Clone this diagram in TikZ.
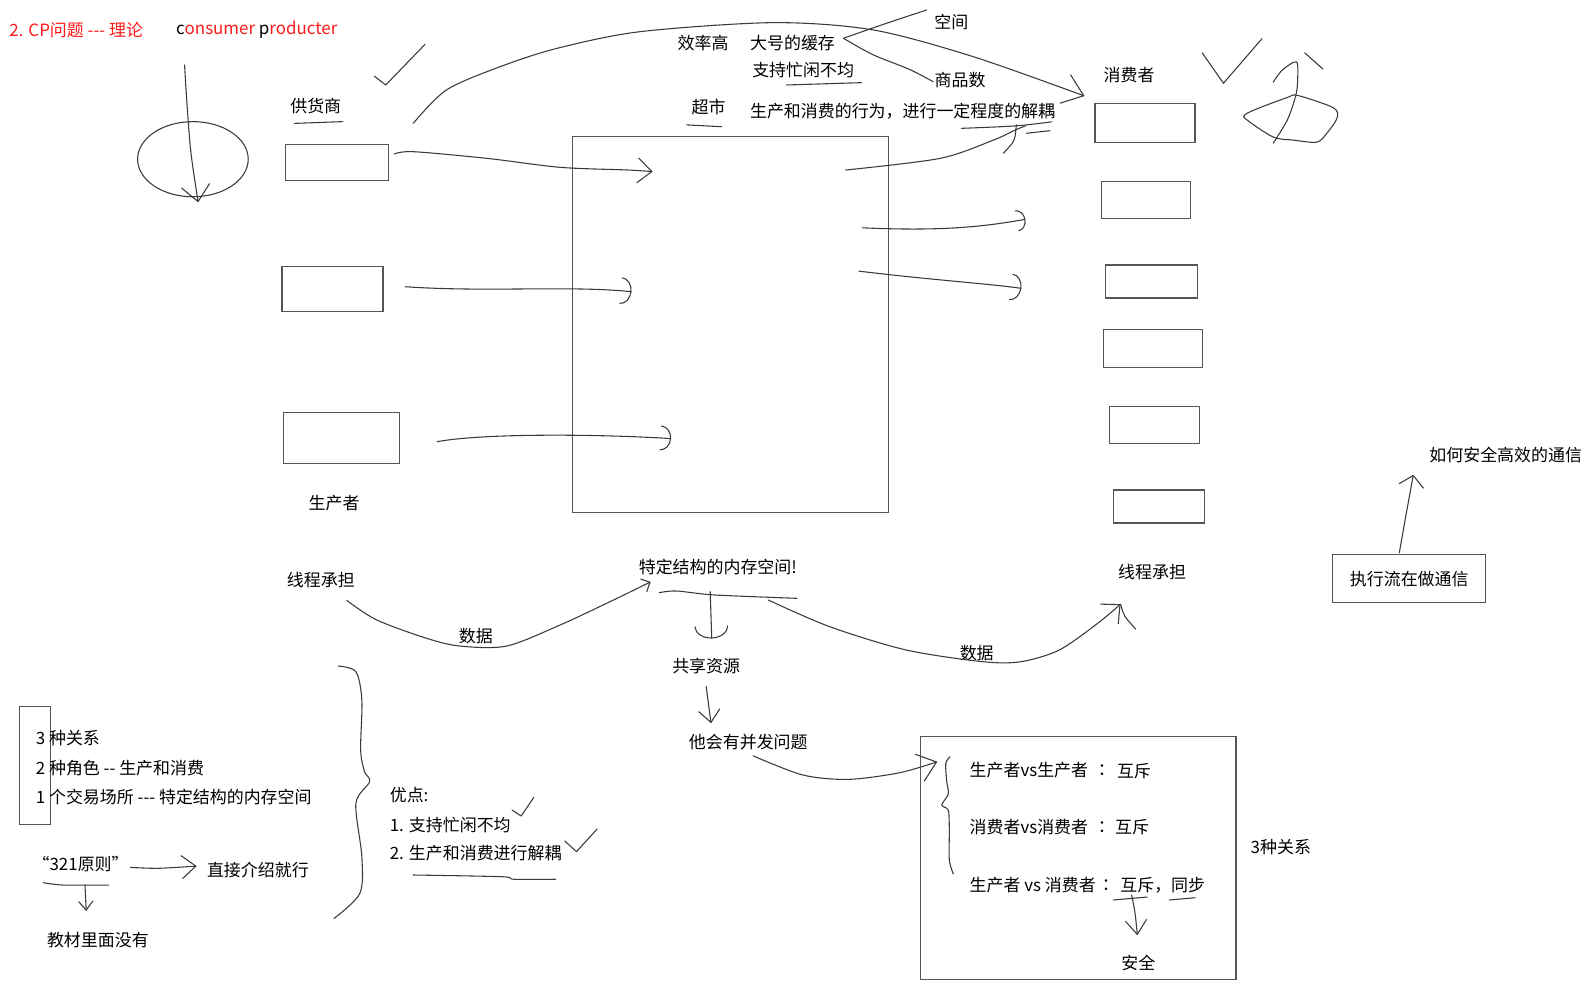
\documentclass[tikz,border=0pt]{standalone}
\usepackage{fontspec}
\newfontfamily\cjk{Noto Sans CJK SC}
\usetikzlibrary{arrows.meta, positioning, calc, shapes.geometric}
\definecolor{inkred}{HTML}{FF1A1A}
\definecolor{inkgray}{HTML}{3A3A3A}
\definecolor{boxgray}{HTML}{555555}

\begin{document}
\begin{tikzpicture}[x=0.02cm, y=-0.02cm,
    pen/.style={inkgray, line width=0.6pt, line cap=round, line join=round},
    txt/.style={font=\cjk\fontsize{9.5}{11}\selectfont, inner sep=0pt},
    box/.style={draw=boxgray, line width=0.6pt, inner sep=0pt},
    vtip/.style args={#1/#2}{-{Straight Barb[length=#1, width=#2]}},
    ctip/.style args={#1/#2}{-{Arc Barb[length=#1, width=#2]}}]
  \useasboundingbox (0,0) rectangle (1568,984);

  % title
  \node[txt, anchor=west, text=inkred] (title) at (8.8,29.5) {2. CP问题 --- 理论};
  \node[txt, anchor=west, text=inkred] (cpname) at (173,29.5) {\textcolor{black}{c}onsumer \textcolor{black}{p}roducter};

  % producers, market, consumers
  \node[box, minimum width=2.02cm, minimum height=0.72cm] (p1) at (332.1,160.2) {};
  \node[box, minimum width=1.99cm, minimum height=0.89cm] (p2) at (327.5,285) {};
  \node[box, minimum width=2.29cm, minimum height=1.02cm] (p3) at (336.2,431.4) {};
  \node[box, minimum width=6.23cm, minimum height=7.41cm] (market) at (719.35,319.8) {};
  \node[box, minimum width=1.97cm, minimum height=0.76cm] (c1) at (1127.75,121.3) {};
  \node[box, minimum width=1.77cm, minimum height=0.73cm] (c2) at (1128.7,197.2) {};
  \node[box, minimum width=1.81cm, minimum height=0.65cm] (c3) at (1133.85,277.25) {};
  \node[box, minimum width=1.96cm, minimum height=0.75cm] (c4) at (1135.65,343.1) {};
  \node[box, minimum width=1.77cm, minimum height=0.73cm] (c5) at (1136.95,418.75) {};
  \node[box, minimum width=1.80cm, minimum height=0.65cm] (c6) at (1141.7,498.85) {};
  \node[draw=inkgray, line width=0.6pt, ellipse, minimum width=2.18cm, minimum height=1.48cm, inner sep=0pt] (loop) at (190,156.8) {};

  \node[txt] (supplier) at (311,104.4) {供货商};
  \node[txt] (producer) at (329,496) {生产者};
  \node[txt] (conslabel) at (1112,73.9) {消费者};
  \node[txt] (fast) at (692.5,42.7) {效率高};
  \node[txt] (buffer) at (780.6,42.7) {大号的缓存};
  \node[txt] (space) at (937,21.3) {空间};
  \node[txt] (goods) at (945.6,78.8) {商品数};
  \node[txt] (busy) at (791,69) {支持忙闲不均};
  \node[txt] (mktlabel) at (698,105) {超市};
  \node[txt] (decouple) at (889,110) {生产和消费的行为，进行一定程度的解耦};

  % strokes at the top
  \draw[pen, vtip=9pt/16pt] plot[smooth] coordinates {(181.8,64) (184,100) (188,150) (195.2,199.3)};
  \draw[pen] (368.6,74.9) -- (379.9,83.7) -- (418.6,43.7);
  \draw[pen] (290.2,121.5) -- (337.7,119.8);
  \draw[pen, vtip=11pt/17pt] plot[smooth] coordinates {(407,121.5) (439.7,88.6) (492.5,65.7) (548.7,47.6) (630.4,31.2) (761.5,22.3) (860,29.5) (958.5,55.8) ($(c1.north west)+(-9.8,-7.2)$)};
  \draw[pen] plot[smooth] coordinates {($(buffer.east)+(8,-5)$) (870,24) (912.7,9.8)};
  \draw[pen] plot[smooth] coordinates {($(buffer.east)+(8,-5)$) (860,54) (895,68) (919,80.4)};
  \draw[pen] (774.8,83.7) -- (848.7,81.4);
  \draw[pen] (676.3,123) -- (710.8,124.8);
  \draw[pen] plot[smooth] coordinates {(947,126.4) (1000,124) (1036,120)};
  \draw[pen] (1011,131.3) -- (1034,128.7);

  % producers -> market
  \draw[pen, vtip=8pt/14pt] plot[smooth] coordinates {($(p1.east)+(5,-8.5)$) (407,149.4) (480,156) (551.6,164.8) (617.2,167.4) (642.8,169)};
  \draw[pen, ctip=6pt/15pt] ($(p2.east)+(21.6,-2.6)$) .. controls (480,288) and (560,281) .. (622,287.3);
  \draw[pen, ctip=6pt/14pt] ($(p3.east)+(36.7,3.6)$) .. controls (480,426) and (600,428) .. (661,432);

  % market -> consumers
  \draw[pen] plot[smooth] coordinates {($(market.north east)+(-42.7,33.4)$) (925.8,156) (978.4,138) (1000,128) (1010,124)};
  \draw[pen] plot[smooth] coordinates {(988.2,151) (997,141) (999.7,134.6) (1001,123)};
  \draw[pen, ctip=5pt/12pt] ($(market.north east)+(-26.3,90.3)$) .. controls (930,228) and (970,223) .. (1010,216);
  \draw[pen, ctip=6pt/15pt] ($(market.north east)+(-29.6,133)$) .. controls (920,276) and (970,279) .. (1006,284);

  % marks near the consumers
  \draw[pen] (1184,52) -- (1205,82) -- (1243,38);
  \draw[pen] plot[smooth cycle] coordinates {(1226,113) (1241,106) (1268,96) (1278,94) (1313,106) (1317,116) (1307,131) (1297,140) (1274,138) (1254,135) (1228,118)};
  \draw[pen] plot[smooth] coordinates {(1254,81) (1263,69) (1277,61) (1278,80) (1276,95) (1268,118) (1254,141)};
  \draw[pen] (1285,52) -- (1303,68);

  % memory, shared resource
  \node[txt] (threadL) at (316,571.3) {线程承担};
  \node[txt] (memory) at (707,558) {特定结构的内存空间!};
  \node[txt] (dataL) at (468.6,626) {数据};
  \node[txt] (dataR) at (962,642.8) {数据};
  \node[txt] (threadR) at (1134.7,563) {线程承担};
  \node[txt] (shared) at (695.5,656) {共享资源};
  \node[txt] (concur) at (737,730.5) {他会有并发问题};

  \draw[pen, vtip=4pt/8pt] plot[smooth] coordinates {($(threadL.south)+(25.5,12)$) (371,610.6) (420.3,628.7) (453,636.3) (499,636.3) (551.6,615.6) (600.8,592.6) ($(memory.south west)+(12,7)$)};
  \draw[pen] plot[smooth] coordinates {(649.4,583.7) (666.3,582.1) (704,586) (785,589.3)};
  \draw[pen, ctip=7pt/19pt] (699.5,582.7) -- ($(shared.north)+(5.5,-19)$);
  \draw[pen, vtip=8pt/15pt] plot[smooth] coordinates {(756.8,591) (817.1,617.2) (892.6,640.2) (968,651.7) (1005.6,651.7) (1043.3,640.2) (1081,614) ($(threadR.south)+(-31,24)$)};
  \draw[pen] plot[smooth] coordinates {($(threadR.south)+(-31,24)$) (1108,607) (1118.7,619.8)};
  \draw[pen, vtip=7pt/12pt] ($(shared.south)+(0,12)$) -- ($(concur.north)+(-36.7,-10)$);
  \draw[pen, vtip=10pt/16pt] plot[smooth] coordinates {($(concur.south)+(4.7,5.8)$) (790.7,763.3) (835.9,767.6) (886.4,761) (923.2,750.2)};

  % three relations
  \node[box, minimum width=6.21cm, minimum height=4.8cm] (rel) at (1062.1,845) {};
  \draw[pen] plot[smooth] coordinates {(935.7,745.3) (931.5,752) (932.5,770) (934,782) (927.5,792.9) (934,798) (935,817) (935,847) (939,860.8)};
  \node[txt, anchor=west] (pp) at (954.7,758.4) {生产者vs生产者};
  \node[txt, anchor=west] (ppc) at (1081,758.4) {：};
  \node[txt, anchor=west] (ppr) at (1099.8,760) {互斥};
  \node[txt, anchor=west] (cc) at (954.7,814.2) {消费者vs消费者};
  \node[txt, anchor=west] (ccc) at (1081,814.2) {：};
  \node[txt, anchor=west] (ccr) at (1098,814.2) {互斥};
  \node[txt, anchor=west] (pc) at (954.7,871.7) {生产者 vs 消费者};
  \node[txt, anchor=west] (pcc) at (1085,871.7) {：};
  \node[txt, anchor=west] (pcr) at (1103.1,871.7) {互斥，同步};
  \node[txt] (safe) at (1121.2,948.8) {安全};
  \node[txt] (three) at (1261.5,834) {3种关系};
  \draw[pen] (1096.6,886.4) -- (1130,883.5);
  \draw[pen] (1151.7,886.4) -- (1177,884.2);
  \draw[pen, vtip=8pt/12pt] plot[smooth] coordinates {(1114.6,881.5) (1118,900) ($(safe.north)+(-1,-19.5)$)};

  % communication
  \node[txt] (how) at (1483,448.1) {如何安全高效的通信};
  \node[box, txt, minimum width=3.02cm, minimum height=0.94cm] (comm) at (1388,570) {执行流在做通信};
  \draw[pen, vtip=6pt/14pt] plot[smooth] coordinates {($(comm.north)+(-9.8,-1.5)$) (1383.9,512.2) ($(how.south)+(-91,11.4)$)};

  % 321 summary
  \node[box, minimum width=0.62cm, minimum height=2.34cm] (frame) at (34.25,754) {};
  \node[txt, anchor=west] (rel3) at (35,727.2) {3 种关系};
  \node[txt, anchor=west] (role2) at (35,756.1) {2 种角色 -- 生产和消费};
  \node[txt, anchor=west] (place1) at (35,784.7) {1 个交易场所 --- 特定结构的内存空间};
  \node[txt] (rule) at (79.4,851) {“321原则”};
  \node[txt] (book) at (96.4,925.8) {教材里面没有};
  \node[txt] (intro) at (254,857) {直接介绍就行};
  \draw[pen] plot[smooth] coordinates {(42.8,869.4) (62.3,871.7) (107.1,871.7)};
  \draw[pen, vtip=5pt/8pt] ($(rule.south)+(4.3,12.4)$) -- ($(book.north)+(-11.5,-20.5)$);
  \draw[pen, vtip=8pt/13pt] plot[smooth] coordinates {(128.5,854.3) (155.8,855.2) ($(intro.west)+(-9.8,-4)$)};
  \draw[pen] plot[smooth] coordinates {(333,656) (350.5,661.5) (356.4,689.5) (355.2,738.7) (359,760) (364.1,769.9) (350.5,791.2) (356.4,843.8) (354.4,879.9) (329.1,904.5)};

  % pros
  \node[txt, anchor=west] (pros) at (383.6,783) {优点:};
  \node[txt, anchor=west] (pro1) at (383.6,812.6) {1. 支持忙闲不均};
  \node[txt, anchor=west] (pro2) at (383.6,840.5) {2. 生产和消费进行解耦};
  \draw[pen] (504.3,797.8) -- (513.3,803.7) -- (525.8,785.3);
  \draw[pen] (556.2,828.3) -- (567.8,838.8) -- (588.1,816.5);
  \draw[pen] plot[smooth] coordinates {(407,861.8) (494.6,863.5) (506.3,866) (547.2,866)};
\end{tikzpicture}
\end{document}
